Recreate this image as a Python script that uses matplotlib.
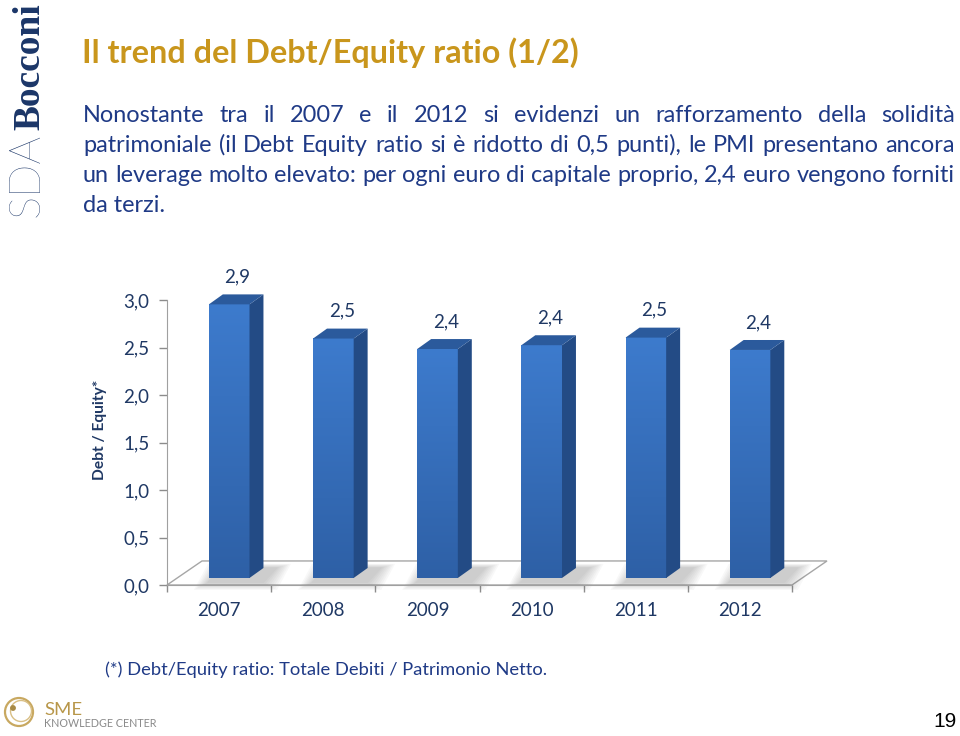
import matplotlib
matplotlib.use('Agg')
import matplotlib.pyplot as plt
import numpy as np
from matplotlib.patches import Polygon, Circle
from matplotlib.colors import LinearSegmentedColormap

# data
years = ['2007', '2008', '2009', '2010', '2011', '2012']
ratio = [2.88, 2.52, 2.41, 2.45, 2.53, 2.40]
ratio_labels = ['2,9', '2,5', '2,4', '2,4', '2,5', '2,4']
yticks = [0, 0.5, 1.0, 1.5, 2.0, 2.5, 3.0]
ytick_labels = ['0,0', '0,5', '1,0', '1,5', '2,0', '2,5', '3,0']

title = 'Il trend del Debt/Equity ratio (1/2)'
body = ['Nonostante tra il 2007 e il 2012 si evidenzi un rafforzamento della solidità',
        'patrimoniale (il Debt Equity ratio si è ridotto di 0,5 punti), le PMI presentano ancora',
        'un leverage molto elevato: per ogni euro di capitale proprio, 2,4 euro vengono forniti',
        'da terzi.']
note = '(*) Debt/Equity ratio: Totale Debiti / Patrimonio Netto.'

NAVY = '#1f3a86'
DARK = '#1f3864'
GOLD = '#c9961c'
GRID = '#8c8c8c'

plt.rcParams['font.family'] = ['Lato', 'DejaVu Sans']

fig = plt.figure(figsize=(9.6, 7.36), dpi=100)
bg = fig.add_axes([0, 0, 1, 1])
bg.set_xlim(0, 960)
bg.set_ylim(736, 0)
bg.axis('off')
renderer = fig.canvas.get_renderer()


def width(t):
    return t.get_window_extent(renderer).width


def fit(t, target, vertical=False):
    for _ in range(3):
        bb = t.get_window_extent(renderer)
        cur = bb.height if vertical else bb.width
        t.set_fontsize(t.get_fontsize() * target / cur)


# title
t = bg.text(82, 63, title, fontsize=26, fontweight='bold', color=GOLD, va='baseline')
fit(t, 496)

# body text, justified between x0 and x1
x0, x1 = 83, 955
size = 20
tmp = [bg.text(0, 0, ln, fontsize=size) for ln in body[1:3]]
size = min(size * (x1 - x0) / width(tt) for tt in tmp)
for tt in tmp:
    tt.remove()

baselines = [122, 152, 182, 212]
for k, (ln, yb) in enumerate(zip(body, baselines)):
    if k == len(body) - 1:
        bg.text(x0, yb, ln, fontsize=size, color=NAVY, va='baseline')
        continue
    words = ln.split(' ')
    objs = [bg.text(0, yb, w, fontsize=size, color=NAVY, va='baseline') for w in words]
    ws = [width(o) for o in objs]
    gap = (x1 - x0 - sum(ws)) / (len(words) - 1)
    x = x0
    for o, w in zip(objs, ws):
        o.set_x(x)
        x += w + gap

# footnote
t = bg.text(105, 675, note, fontsize=18, color=NAVY, va='baseline')
fit(t, 440)

# SDA Bocconi logo (vertical)
t = bg.text(47, 217, 'SDA', rotation=90, fontsize=24, fontweight='light',
            color='#1b3668', ha='right', va='bottom')
fit(t, 84, vertical=True)
t = bg.text(47, 130, 'Bocconi', rotation=90, fontsize=28, fontweight='bold',
            family='Liberation Serif', color='#1b3668', ha='right', va='bottom')
fit(t, 127, vertical=True)

# SME logo
bg.add_patch(Circle((19, 712), 14, fill=False, ec='#c8a860', lw=1.6))
bg.add_patch(Circle((21, 711), 10.5, fill=False, ec='#d9bf85', lw=1.0))
bg.add_patch(Circle((13, 708), 2.2, color='#a88a45'))
t = bg.text(44, 715, 'SME', fontsize=15, color='#b8974a', va='baseline')
fit(t, 38)
t = bg.text(44, 727, 'KNOWLEDGE CENTER', fontsize=8, color='#8a8a8a', va='baseline')
fit(t, 112)

# page number
bg.text(945, 727, '19', fontsize=15, family='Liberation Sans', color='black',
        ha='center', va='baseline')

# chart
ax = fig.add_axes([167 / 960, 151 / 736, 625 / 960, 285 / 736])
ax.set_xlim(0, 6)
ax.set_ylim(0, 3)
ax.patch.set_alpha(0)
for s in ['top', 'right']:
    ax.spines[s].set_visible(False)
for s in ['left', 'bottom']:
    ax.spines[s].set_color('#a0a0a0')

# floor
ddx, ddy = 0.336, 0.253
ax.add_patch(Polygon([(0, 0), (6, 0), (6 + ddx, ddy), (ddx, ddy)], closed=True,
                     fill=False, ec='#a6a6a6', lw=1, clip_on=False, zorder=1))

front_cmap = LinearSegmentedColormap.from_list('front', ['#2e60a6', '#3d7bcd'])
fdx, fdy = 0.097, 0.074   # bar front offset on floor
sdx, sdy = 0.134, 0.105   # bar depth
bw = 0.39
grad = np.linspace(0, 1, 200).reshape(-1, 1)

for i, v in enumerate(ratio):
    bx0 = i + 0.5 - bw / 2 + fdx
    bx1 = bx0 + bw
    by0 = fdy
    by1 = fdy + v
    # soft shadow on the floor
    for k in range(8):
        e = 0.018 * (8 - k)
        ax.add_patch(Polygon([(bx0 - e, by0 - 0.04 - e * 0.6), (bx1 + 0.12 + e, by0 - 0.04 - e * 0.6),
                              (bx1 + sdx + 0.12 + e, by0 + sdy + e * 0.3), (bx0 + sdx - e, by0 + sdy + e * 0.3)],
                             closed=True, fc='#606060', ec='none', alpha=0.045,
                             clip_on=False, zorder=2))
    # front face
    ax.imshow(grad, extent=(bx0, bx1, by0, by1), origin='lower', cmap=front_cmap,
              aspect='auto', zorder=4, clip_on=False, interpolation='bilinear')
    # side face
    ax.add_patch(Polygon([(bx1, by0), (bx1 + sdx, by0 + sdy), (bx1 + sdx, by1 + sdy), (bx1, by1)],
                         closed=True, fc='#234b85', ec='none', clip_on=False, zorder=4))
    # top face
    ax.add_patch(Polygon([(bx0, by1), (bx1, by1), (bx1 + sdx, by1 + sdy), (bx0 + sdx, by1 + sdy)],
                         closed=True, fc='#2b5a9c', ec='none', clip_on=False, zorder=4))
    ax.text(bx0 + bw / 2 + 0.08, by1 + 0.29, ratio_labels[i], ha='center', va='center',
            fontsize=13.5, color=DARK, zorder=5)

ax.set_xlim(0, 6)
ax.set_ylim(0, 3)

ax.set_yticks(yticks, ytick_labels)
ax.tick_params(axis='y', length=5.8, width=1, color=GRID, labelcolor=DARK,
               labelsize=13.5, pad=7)
ax.set_xticks([i + 0.5 for i in range(6)], years)
ax.set_xticks(range(7), minor=True)
ax.tick_params(axis='x', which='major', length=0, labelcolor=DARK, labelsize=13.5, pad=12)
ax.tick_params(axis='x', which='minor', length=5, width=1, color=GRID)

# y label
t = bg.text(100, 430, 'Debt / Equity*', rotation=90, fontsize=13, fontweight='bold',
            color=DARK, ha='center', va='center')
fit(t, 100, vertical=True)

fig.savefig('out.png', dpi=100)
